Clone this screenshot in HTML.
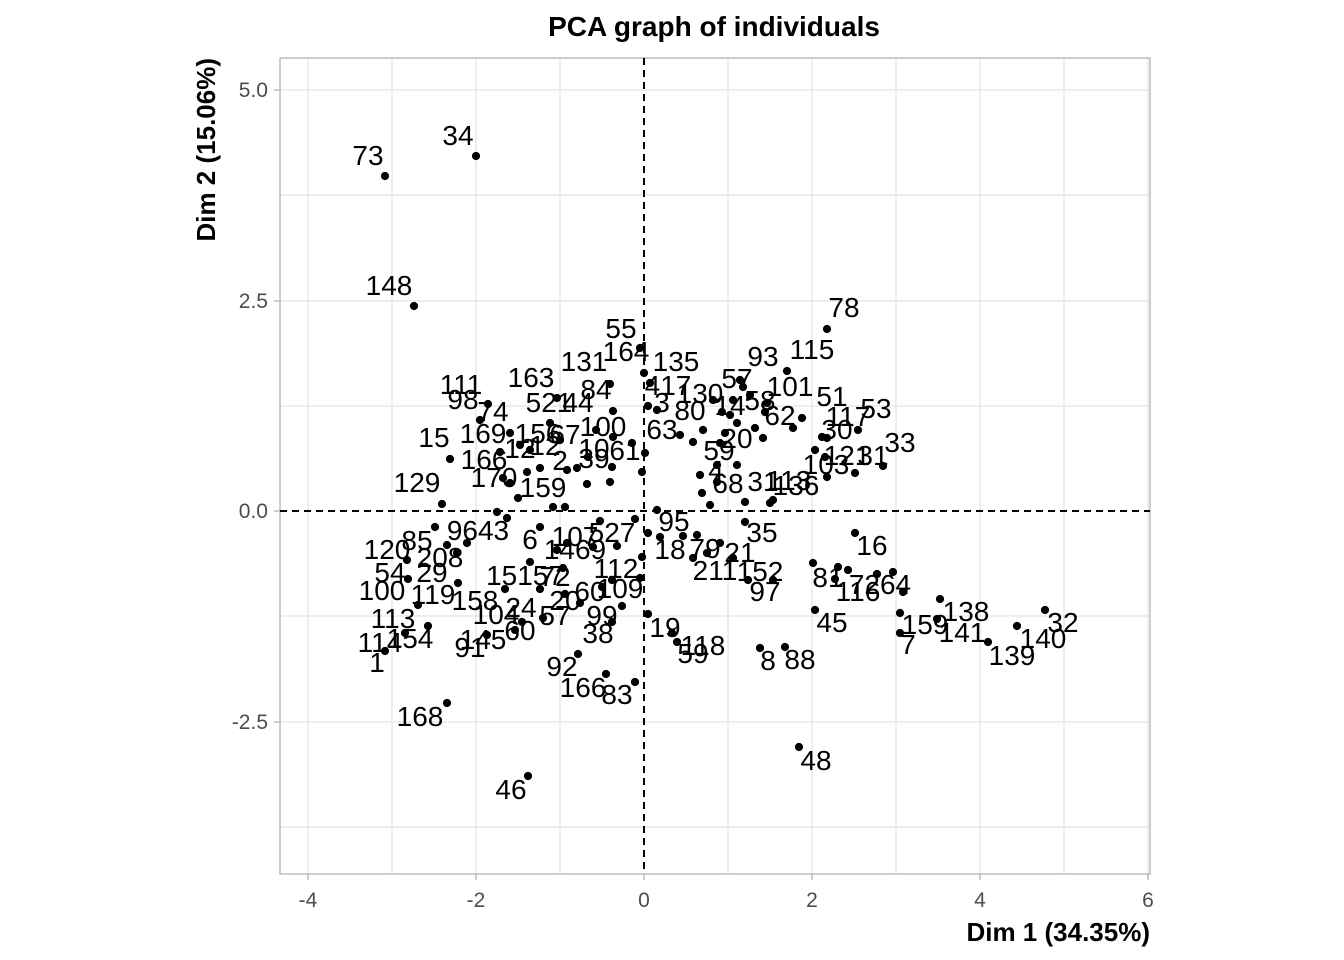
<!DOCTYPE html>
<html><head><meta charset="utf-8"><style>
html,body{margin:0;padding:0;background:#fff;}
svg{display:block;font-family:"Liberation Sans",sans-serif;}
.l{font-size:28px;fill:#000;text-anchor:middle;}
</style></head><body>
<svg width="1344" height="960" viewBox="0 0 1344 960" xmlns="http://www.w3.org/2000/svg">
<rect width="1344" height="960" fill="#fff"/>
<g stroke="#dedede" stroke-width="1">
<line x1="308" y1="58" x2="308" y2="874"/><line x1="392" y1="58" x2="392" y2="874"/><line x1="476" y1="58" x2="476" y2="874"/><line x1="560" y1="58" x2="560" y2="874"/><line x1="728" y1="58" x2="728" y2="874"/><line x1="812" y1="58" x2="812" y2="874"/><line x1="896" y1="58" x2="896" y2="874"/><line x1="980" y1="58" x2="980" y2="874"/><line x1="1064" y1="58" x2="1064" y2="874"/><line x1="1148" y1="58" x2="1148" y2="874"/>
<line x1="280" y1="90" x2="1150" y2="90"/><line x1="280" y1="195" x2="1150" y2="195"/><line x1="280" y1="301" x2="1150" y2="301"/><line x1="280" y1="406" x2="1150" y2="406"/><line x1="280" y1="616" x2="1150" y2="616"/><line x1="280" y1="722" x2="1150" y2="722"/><line x1="280" y1="827" x2="1150" y2="827"/>
</g>
<rect x="280" y="58" width="870" height="816" fill="none" stroke="#b3b3b3" stroke-width="1.3"/>
<g stroke="#000" stroke-width="2" stroke-dasharray="7,5">
<line x1="644" y1="58" x2="644" y2="874"/><line x1="280" y1="511" x2="1150" y2="511"/>
</g>
<g stroke="#b3b3b3" stroke-width="1.3">
<line x1="308" y1="874" x2="308" y2="880"/><line x1="476" y1="874" x2="476" y2="880"/><line x1="644" y1="874" x2="644" y2="880"/><line x1="812" y1="874" x2="812" y2="880"/><line x1="980" y1="874" x2="980" y2="880"/><line x1="1148" y1="874" x2="1148" y2="880"/>
<line x1="274" y1="90" x2="280" y2="90"/><line x1="274" y1="301" x2="280" y2="301"/><line x1="274" y1="511" x2="280" y2="511"/><line x1="274" y1="722" x2="280" y2="722"/>
</g>
<g font-size="21" fill="#4d4d4d" text-anchor="middle">
<text x="308" y="907">-4</text><text x="476" y="907">-2</text><text x="644" y="907">0</text><text x="812" y="907">2</text><text x="980" y="907">4</text><text x="1148" y="907">6</text>
</g>
<g font-size="21" fill="#4d4d4d" text-anchor="end">
<text x="268" y="97">5.0</text><text x="268" y="308">2.5</text><text x="268" y="518">0.0</text><text x="268" y="729">-2.5</text>
</g>
<text x="714" y="36" font-size="28" font-weight="bold" text-anchor="middle">PCA graph of individuals</text>
<text x="1150" y="941" font-size="26" font-weight="bold" text-anchor="end">Dim 1 (34.35%)</text>
<text transform="translate(215,58) rotate(-90)" font-size="26" font-weight="bold" text-anchor="end">Dim 2 (15.06%)</text>
<g fill="#000">
<circle cx="385" cy="176" r="4.1"/><circle cx="476" cy="156" r="4.1"/><circle cx="414" cy="306" r="4.1"/><circle cx="827" cy="329" r="4.1"/><circle cx="640" cy="348" r="4.1"/>
<circle cx="644" cy="373" r="4.1"/><circle cx="650" cy="383" r="4.1"/><circle cx="610" cy="384" r="4.1"/><circle cx="557" cy="398" r="4.1"/><circle cx="488" cy="404" r="4.1"/><circle cx="613" cy="411" r="4.1"/><circle cx="648" cy="406" r="4.1"/><circle cx="657" cy="410" r="4.1"/><circle cx="480" cy="420" r="4.1"/><circle cx="550" cy="423" r="4.1"/><circle cx="510" cy="433" r="4.1"/><circle cx="613" cy="437" r="4.1"/><circle cx="632" cy="443" r="4.1"/><circle cx="645" cy="453" r="4.1"/><circle cx="450" cy="459" r="4.1"/><circle cx="588" cy="457" r="4.1"/><circle cx="540" cy="468" r="4.1"/><circle cx="527" cy="472" r="4.1"/><circle cx="567" cy="470" r="4.1"/><circle cx="577" cy="468" r="4.1"/><circle cx="612" cy="467" r="4.1"/><circle cx="642" cy="472" r="4.1"/><circle cx="503" cy="478" r="4.1"/><circle cx="510" cy="483" r="4.1"/><circle cx="587" cy="484" r="4.1"/><circle cx="610" cy="482" r="4.1"/><circle cx="518" cy="498" r="4.1"/><circle cx="442" cy="504" r="4.1"/><circle cx="553" cy="507" r="4.1"/><circle cx="565" cy="507" r="4.1"/><circle cx="497" cy="512" r="4.1"/><circle cx="507" cy="518" r="4.1"/>
<circle cx="520" cy="445" r="4.1"/><circle cx="530" cy="450" r="4.1"/><circle cx="500" cy="452" r="4.1"/><circle cx="560" cy="440" r="4.1"/><circle cx="596" cy="430" r="4.1"/>
<circle cx="435" cy="527" r="4.1"/><circle cx="540" cy="527" r="4.1"/><circle cx="635" cy="519" r="4.1"/><circle cx="600" cy="521" r="4.1"/><circle cx="467" cy="543" r="4.1"/><circle cx="447" cy="545" r="4.1"/><circle cx="457" cy="553" r="4.1"/><circle cx="407" cy="560" r="4.1"/><circle cx="530" cy="562" r="4.1"/><circle cx="567" cy="543" r="4.1"/><circle cx="593" cy="547" r="4.1"/><circle cx="557" cy="550" r="4.1"/><circle cx="617" cy="546" r="4.1"/><circle cx="642" cy="557" r="4.1"/><circle cx="408" cy="579" r="4.1"/><circle cx="458" cy="583" r="4.1"/><circle cx="540" cy="589" r="4.1"/><circle cx="505" cy="589" r="4.1"/><circle cx="563" cy="568" r="4.1"/><circle cx="565" cy="594" r="4.1"/><circle cx="640" cy="578" r="4.1"/><circle cx="612" cy="580" r="4.1"/><circle cx="602" cy="587" r="4.1"/><circle cx="580" cy="603" r="4.1"/><circle cx="622" cy="606" r="4.1"/><circle cx="418" cy="605" r="4.1"/><circle cx="522" cy="622" r="4.1"/><circle cx="543" cy="618" r="4.1"/><circle cx="612" cy="622" r="4.1"/><circle cx="428" cy="626" r="4.1"/><circle cx="405" cy="633" r="4.1"/><circle cx="487" cy="635" r="4.1"/><circle cx="515" cy="630" r="4.1"/><circle cx="385" cy="651" r="4.1"/><circle cx="578" cy="654" r="4.1"/><circle cx="606" cy="674" r="4.1"/><circle cx="635" cy="682" r="4.1"/>
<circle cx="787" cy="371" r="4.1"/><circle cx="680" cy="435" r="4.1"/><circle cx="703" cy="430" r="4.1"/><circle cx="693" cy="442" r="4.1"/><circle cx="713" cy="400" r="4.1"/><circle cx="722" cy="412" r="4.1"/><circle cx="733" cy="400" r="4.1"/><circle cx="740" cy="380" r="4.1"/><circle cx="743" cy="387" r="4.1"/><circle cx="737" cy="423" r="4.1"/><circle cx="755" cy="428" r="4.1"/><circle cx="763" cy="438" r="4.1"/><circle cx="767" cy="403" r="4.1"/><circle cx="793" cy="428" r="4.1"/><circle cx="802" cy="418" r="4.1"/><circle cx="765" cy="412" r="4.1"/><circle cx="725" cy="433" r="4.1"/><circle cx="720" cy="443" r="4.1"/><circle cx="717" cy="465" r="4.1"/><circle cx="737" cy="465" r="4.1"/><circle cx="700" cy="475" r="4.1"/><circle cx="702" cy="493" r="4.1"/><circle cx="710" cy="505" r="4.1"/><circle cx="745" cy="502" r="4.1"/><circle cx="770" cy="503" r="4.1"/><circle cx="773" cy="500" r="4.1"/><circle cx="815" cy="450" r="4.1"/><circle cx="825" cy="457" r="4.1"/><circle cx="822" cy="437" r="4.1"/><circle cx="827" cy="438" r="4.1"/><circle cx="858" cy="430" r="4.1"/><circle cx="855" cy="473" r="4.1"/><circle cx="883" cy="466" r="4.1"/><circle cx="827" cy="477" r="4.1"/><circle cx="717" cy="482" r="4.1"/><circle cx="750" cy="395" r="4.1"/><circle cx="730" cy="415" r="4.1"/>
<circle cx="657" cy="510" r="4.1"/><circle cx="648" cy="533" r="4.1"/><circle cx="660" cy="537" r="4.1"/><circle cx="683" cy="536" r="4.1"/><circle cx="697" cy="535" r="4.1"/><circle cx="720" cy="543" r="4.1"/><circle cx="693" cy="558" r="4.1"/><circle cx="707" cy="553" r="4.1"/><circle cx="733" cy="558" r="4.1"/><circle cx="745" cy="522" r="4.1"/><circle cx="748" cy="580" r="4.1"/><circle cx="773" cy="580" r="4.1"/><circle cx="855" cy="533" r="4.1"/><circle cx="813" cy="563" r="4.1"/><circle cx="838" cy="567" r="4.1"/><circle cx="848" cy="570" r="4.1"/><circle cx="835" cy="579" r="4.1"/><circle cx="877" cy="574" r="4.1"/><circle cx="893" cy="572" r="4.1"/><circle cx="903" cy="592" r="4.1"/><circle cx="940" cy="599" r="4.1"/><circle cx="815" cy="610" r="4.1"/><circle cx="900" cy="613" r="4.1"/><circle cx="937" cy="619" r="4.1"/><circle cx="900" cy="633" r="4.1"/><circle cx="988" cy="642" r="4.1"/><circle cx="1017" cy="626" r="4.1"/><circle cx="1045" cy="610" r="4.1"/><circle cx="648" cy="614" r="4.1"/><circle cx="672" cy="633" r="4.1"/><circle cx="677" cy="642" r="4.1"/><circle cx="760" cy="648" r="4.1"/><circle cx="785" cy="647" r="4.1"/>
<circle cx="447" cy="703" r="4.1"/><circle cx="528" cy="776" r="4.1"/><circle cx="799" cy="747" r="4.1"/>
</g>
<g class="l">
<text x="368" y="165">73</text><text x="458" y="145">34</text><text x="389" y="295">148</text><text x="844" y="317">78</text><text x="621" y="338">55</text>
<text x="626" y="361">164</text><text x="584" y="371">131</text><text x="676" y="371">135</text><text x="763" y="366">93</text><text x="812" y="359">115</text>
<text x="531" y="387">163</text><text x="461" y="394">111</text><text x="596" y="399">84</text><text x="668" y="395">417</text><text x="700" y="403">130</text>
<text x="737" y="388">57</text><text x="790" y="396">101</text><text x="832" y="406">51</text><text x="876" y="418">53</text><text x="463" y="409">98</text>
<text x="549" y="412">521</text><text x="578" y="412">44</text><text x="493" y="421">74</text><text x="662" y="412">3</text><text x="690" y="420">80</text>
<text x="848" y="426">117</text><text x="780" y="425">62</text><text x="730" y="415">14</text><text x="760" y="410">58</text><text x="434" y="447">15</text><text x="483" y="443">169</text>
<text x="538" y="443">156</text><text x="565" y="444">67</text><text x="603" y="436">100</text><text x="662" y="439">63</text><text x="837" y="439">30</text>
<text x="900" y="452">33</text><text x="484" y="469">166</text><text x="520" y="458">12</text><text x="545" y="455">12</text><text x="594" y="458">10</text><text x="560" y="470">2</text><text x="594" y="468">39</text>
<text x="625" y="460">61</text><text x="719" y="460">59</text><text x="737" y="448">20</text><text x="847" y="465">121</text><text x="873" y="465">31</text>
<text x="826" y="474">103</text><text x="494" y="487">170</text><text x="417" y="492">129</text><text x="543" y="497">159</text><text x="728" y="493">68</text>
<text x="763" y="491">31</text><text x="789" y="490">113</text><text x="796" y="495">136</text><text x="716" y="480">4</text><text x="674" y="531">95</text><text x="762" y="542">35</text>
<text x="872" y="555">16</text><text x="478" y="540">9643</text><text x="575" y="546">107</text><text x="612" y="542">527</text><text x="387" y="559">120</text>
<text x="417" y="550">85</text><text x="440" y="567">208</text><text x="530" y="549">6</text><text x="575" y="559">1469</text><text x="670" y="559">18</text><text x="705" y="558">79</text>
<text x="740" y="562">21</text><text x="760" y="581">152</text><text x="715" y="580">211</text><text x="828" y="587">81</text><text x="858" y="601">116</text>
<text x="880" y="594">7264</text><text x="390" y="582">54</text><text x="432" y="582">29</text><text x="525" y="585">15157</text><text x="555" y="586">72</text>
<text x="616" y="578">112</text><text x="382" y="600">100</text><text x="433" y="604">119</text><text x="475" y="610">158</text><text x="620" y="598">109</text><text x="590" y="601">60</text>
<text x="765" y="601">97</text><text x="496" y="624">104</text><text x="521" y="617">24</text><text x="565" y="610">20</text><text x="555" y="625">57</text>
<text x="602" y="625">99</text><text x="832" y="632">45</text><text x="966" y="621">138</text><text x="1063" y="632">32</text><text x="925" y="634">159</text>
<text x="962" y="642">141</text><text x="1043" y="648">140</text><text x="393" y="628">113</text><text x="665" y="637">19</text><text x="598" y="643">38</text>
<text x="908" y="654">7</text><text x="1012" y="665">139</text><text x="703" y="655">118</text><text x="693" y="663">59</text><text x="768" y="670">8</text>
<text x="800" y="669">88</text><text x="380" y="652">114</text><text x="410" y="648">154</text><text x="470" y="657">91</text><text x="483" y="649">145</text>
<text x="520" y="640">60</text><text x="377" y="672">1</text><text x="562" y="676">92</text><text x="583" y="697">166</text><text x="617" y="704">83</text>
<text x="420" y="726">168</text><text x="511" y="799">46</text><text x="816" y="770">48</text>
</g>
</svg>
</body></html>
